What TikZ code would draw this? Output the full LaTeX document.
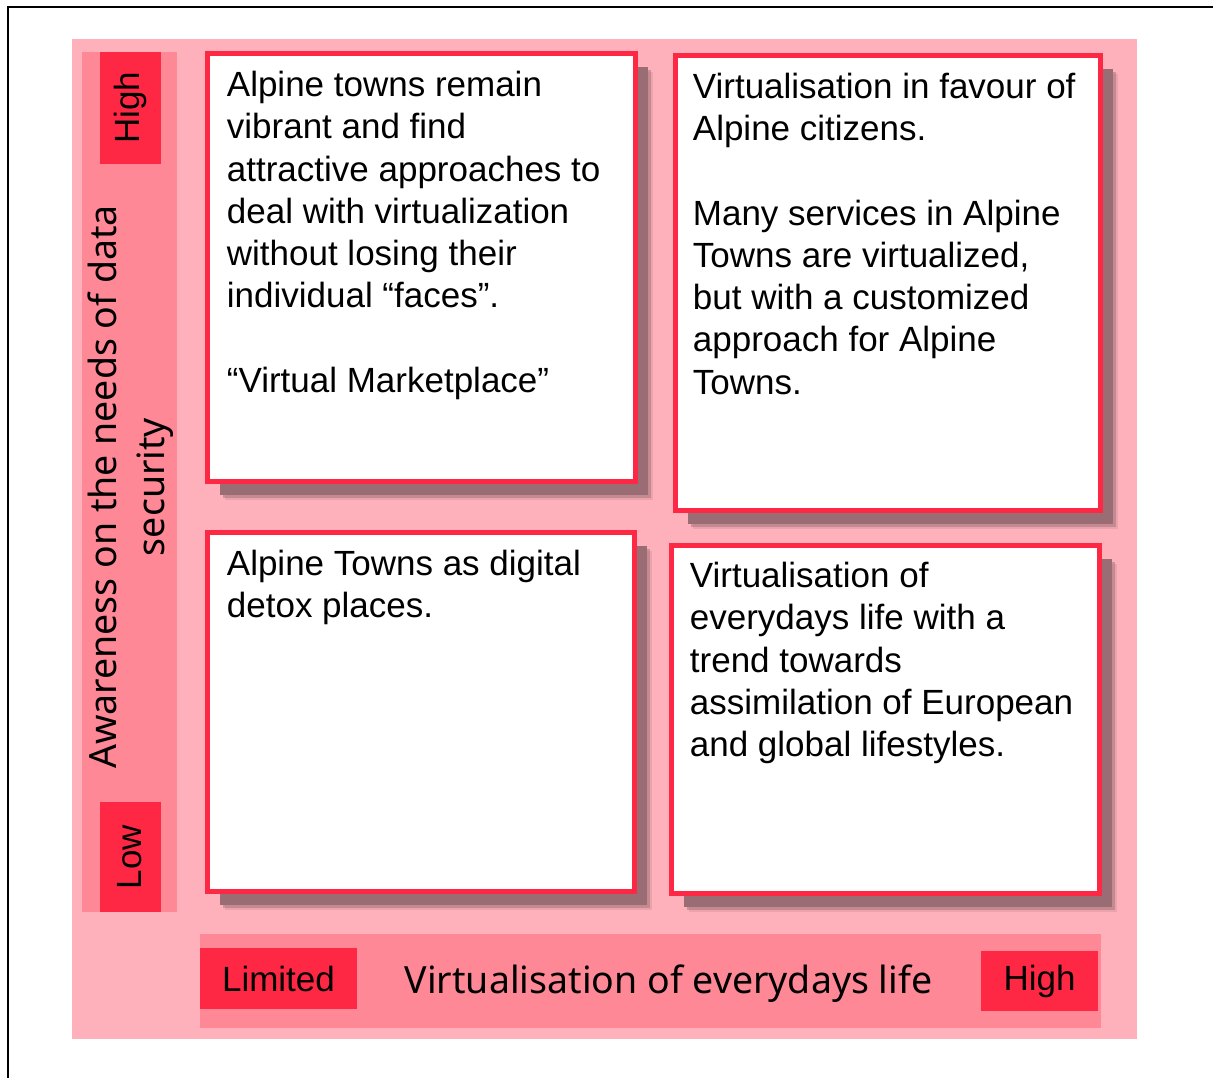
\documentclass[tikz,border=0pt]{standalone}
\usepackage{fontspec}
\setmainfont{Liberation Sans}
\newfontfamily\axisfont{Noto Sans}
\usetikzlibrary{calc,shadows,positioning}

\definecolor{bgpink}{HTML}{FEB1BA}
\definecolor{barpink}{HTML}{FF8896}
\definecolor{tagred}{HTML}{FF2844}
\definecolor{shadowc}{HTML}{9A6C73}

\tikzset{
  quad/.style={draw=tagred, line width=2.5pt, fill=white, anchor=north west,
    inner sep=0pt, outer sep=0pt,
    drop shadow={shadow xshift=8.5pt, shadow yshift=-9pt, fill=shadowc, opacity=0.2},
    drop shadow={shadow xshift=7.5pt, shadow yshift=-8pt, fill=shadowc, opacity=0.45},
    drop shadow={shadow xshift=6pt, shadow yshift=-6.5pt, fill=shadowc, opacity=1}},
  qtext/.style={anchor=north west, inner sep=0pt, align=left,
    font=\fontsize{17.5}{21.1}\selectfont},
  tag/.style={fill=tagred, inner sep=0pt, font=\fontsize{17.5}{20}\selectfont},
  axis/.style={inner sep=0pt, align=center, font=\axisfont\fontsize{18.75}{24}\selectfont}
}

\begin{document}
\begin{tikzpicture}[x=0.5pt,y=-0.5pt]
\useasboundingbox (0,0) rectangle (1213,1077);
\clip (0,0) rectangle (1213,1077);

% frame and background
\draw[line width=1pt] (8,1100) -- (8,7) -- (1240,7);
\fill[bgpink] (72,39) rectangle (1137,1038.5);
\fill[barpink] (82,52) rectangle (177,912);
\fill[barpink] (200,933.5) rectangle (1101,1028);

% axis tags
\node[tag, rotate=90, minimum width=56pt, minimum height=30.5pt] (yhigh) at (130,108) {High};
\node[tag, rotate=90, minimum width=55pt, minimum height=30.5pt] (ylow) at (130,857) {Low};
\node[tag, minimum width=78.5pt, minimum height=30.5pt] (xlow) at (278.5,978.5) {Limited};
\node[tag, minimum width=58.5pt, minimum height=30pt] (xhigh) at (1039.5,981) {High};

% axis titles
\node[axis, rotate=90] (ytitle) at (131,487) {Awareness on the needs of data\\security};
\node[axis, anchor=base] (xtitle) at (668.5,993) {Virtualisation of everydays life};

% quadrants
\node[quad, minimum width=214pt, minimum height=214pt] (q1) at (207.5,53.5) {};
\node[quad, minimum width=212.5pt, minimum height=227.5pt] (q2) at (675.5,55.5) {};
\node[quad, minimum width=213.5pt, minimum height=179.5pt] (q3) at (207.5,532.5) {};
\node[quad, minimum width=214pt, minimum height=174pt] (q4) at (671.5,545.5) {};

\node[qtext] (t1) at ($(q1.north west)+(19,17.5)$) {Alpine towns remain\\vibrant and find\\attractive approaches to\\deal with virtualization\\without losing their\\individual “faces”.\\[21.1pt]“Virtual Marketplace”};
\node[qtext] (t2) at ($(q2.north west)+(17,17.5)$) {Virtualisation in favour of\\Alpine citizens.\\[21.1pt]Many services in Alpine\\Towns are virtualized,\\but with a customized\\approach for Alpine\\Towns.};
\node[qtext] (t3) at ($(q3.north west)+(19,17.5)$) {Alpine Towns as digital\\detox places.};
\node[qtext] (t4) at ($(q4.north west)+(18,16.5)$) {Virtualisation of\\everydays life with a\\trend towards\\assimilation of European\\and global lifestyles.};

\end{tikzpicture}
\end{document}
